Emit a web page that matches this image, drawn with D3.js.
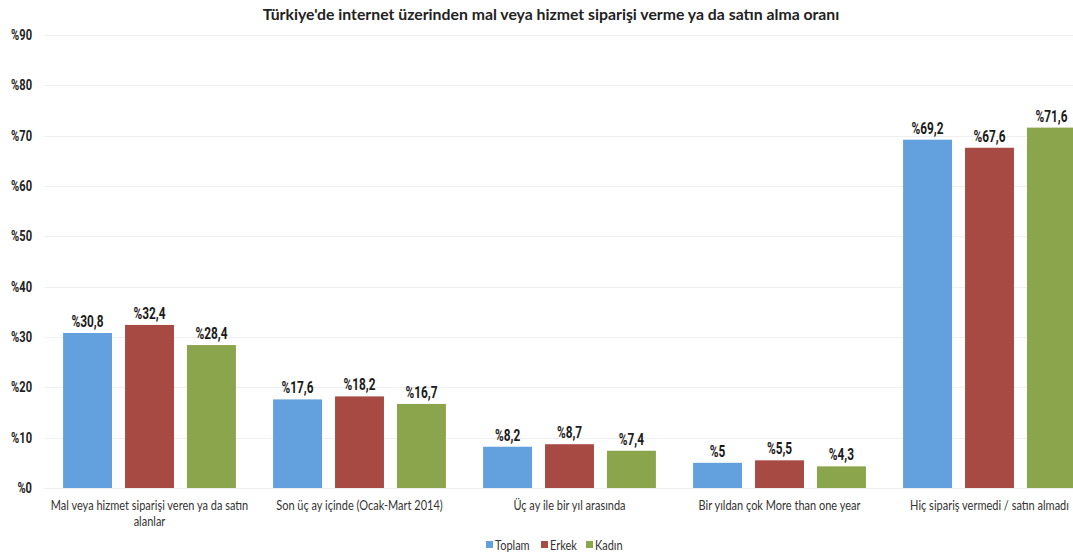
<!DOCTYPE html>
<html>
<head>
<meta charset="utf-8">
<script src="https://cdn.jsdelivr.net/npm/d3@7"></script>
<style>
  html, body { margin: 0; padding: 0; background: #fff; overflow: hidden; }
  svg { display: block; }
</style>
</head>
<body>
<svg id="chart" width="1073" height="559"></svg>
<script>
// Internet shopping rates in Türkiye, by gender
const categories = [
  "Mal veya hizmet siparişi veren ya da satın alanlar",
  "Son üç ay içinde (Ocak-Mart 2014)",
  "Üç ay ile bir yıl arasında",
  "Bir yıldan çok More than one year",
  "Hiç sipariş vermedi / satın almadı"
];
const seriesNames = ["Toplam", "Erkek", "Kadın"];
const toplam = [30.8, 17.6, 8.2, 5, 69.2];
const erkek  = [32.4, 18.2, 8.7, 5.5, 67.6];
const kadin  = [28.4, 16.7, 7.4, 4.3, 71.6];
const yTicks = [0, 10, 20, 30, 40, 50, 60, 70, 80, 90];
const colors = ["#63a0de", "#a84a44", "#8ba54c"];

const seriesValues = [toplam, erkek, kadin];
const svg = d3.select("#chart");

const margin = { left: 44.5, top: 35, bottom: 488 };
const plotRight = 1094.5;

const x0 = d3.scaleBand().domain(categories).range([margin.left, plotRight]).paddingInner(0).paddingOuter(0);
const x1 = d3.scaleBand().domain(seriesNames).range([0, x0.bandwidth()]).paddingInner(0.21).paddingOuter(0.3);
const y = d3.scaleLinear().domain([0, 90]).range([margin.bottom, margin.top]);

const fmt = v => "%" + String(v).replace(".", ",");
const condFont = "Roboto, 'DejaVu Sans', sans-serif";
const squeeze = 0.74;      // narrow bold numerals
const labelSqueeze = 0.86; // narrow body text

// Title
svg.append("text")
  .attr("x", 551).attr("y", 20)
  .attr("text-anchor", "middle")
  .attr("font-family", "Lato, 'Open Sans', sans-serif")
  .attr("font-weight", "bold")
  .attr("font-size", 15.8)
  .attr("fill", "#222")
  .text("Türkiye'de internet üzerinden mal veya hizmet siparişi verme ya da satın alma oranı");

// Gridlines
svg.append("g")
  .selectAll("line")
  .data(yTicks)
  .join("line")
  .attr("x1", margin.left).attr("x2", plotRight)
  .attr("y1", d => Math.round(y(d)) + 0.5).attr("y2", d => Math.round(y(d)) + 0.5)
  .attr("stroke", "#efefef").attr("stroke-width", 1);

// Y axis labels
svg.append("g")
  .selectAll("text")
  .data(yTicks)
  .join("text")
  .attr("transform", d => `translate(32,${y(d) + 5}) scale(${squeeze},1)`)
  .attr("text-anchor", "end")
  .attr("font-family", condFont)
  .attr("font-weight", "bold")
  .attr("font-size", 15)
  .attr("fill", "#222")
  .text(d => "%" + d);

// Bars
const groups = svg.append("g")
  .selectAll("g")
  .data(categories)
  .join("g")
  .attr("transform", d => `translate(${x0(d)},0)`);

groups.each(function(cat, ci) {
  const g = d3.select(this);
  const rows = seriesNames.map((s, si) => ({ s, si, v: seriesValues[si][ci] }));
  g.selectAll("rect")
    .data(rows)
    .join("rect")
    .attr("x", d => x1(d.s))
    .attr("y", d => y(d.v))
    .attr("width", x1.bandwidth())
    .attr("height", d => y(0) - y(d.v))
    .attr("fill", d => colors[d.si]);
  g.selectAll("text.val")
    .data(rows)
    .join("text")
    .attr("class", "val")
    .attr("transform", d => `translate(${x1(d.s) + x1.bandwidth() / 2},${y(d.v) - 6}) scale(${squeeze},1)`)
    .attr("text-anchor", "middle")
    .attr("font-family", condFont)
    .attr("font-weight", "bold")
    .attr("font-size", 16)
    .attr("fill", "#1a1a1a")
    .text(d => fmt(d.v));
});

// Category labels (wrapped)
function wrap(text, width) {
  text.each(function() {
    const t = d3.select(this);
    const words = t.text().split(/\s+/);
    let line = [];
    let tspan = t.text(null).append("tspan").attr("x", 0).attr("dy", 0);
    words.forEach(w => {
      line.push(w);
      tspan.text(line.join(" "));
      if (tspan.node().getComputedTextLength() > width && line.length > 1) {
        line.pop();
        tspan.text(line.join(" "));
        line = [w];
        tspan = t.append("tspan").attr("x", 0).attr("dy", "1.25em").text(w);
      }
    });
  });
}

svg.append("g")
  .selectAll("text")
  .data(categories)
  .join("text")
  .attr("transform", d => `translate(${x0(d) + x0.bandwidth() / 2},510) scale(${labelSqueeze},1)`)
  .attr("text-anchor", "middle")
  .attr("font-family", "Lato, 'Open Sans', sans-serif")
  .attr("font-size", 12.8)
  .attr("fill", "#333")
  .text(d => d)
  .call(wrap, 200 / labelSqueeze);

// Legend
const legendX = [486, 541, 586];
const lg = svg.append("g")
  .selectAll("g")
  .data(seriesNames)
  .join("g")
  .attr("transform", (d, i) => `translate(${legendX[i]},541)`);
lg.append("rect").attr("width", 7).attr("height", 7).attr("y", 0).attr("fill", (d, i) => colors[i]);
lg.append("text")
  .attr("transform", `translate(9,8.5) scale(${labelSqueeze},1)`)
  .attr("font-family", "Lato, 'Open Sans', sans-serif")
  .attr("font-size", 12.8)
  .attr("fill", "#333")
  .text(d => d);
</script>
</body>
</html>
